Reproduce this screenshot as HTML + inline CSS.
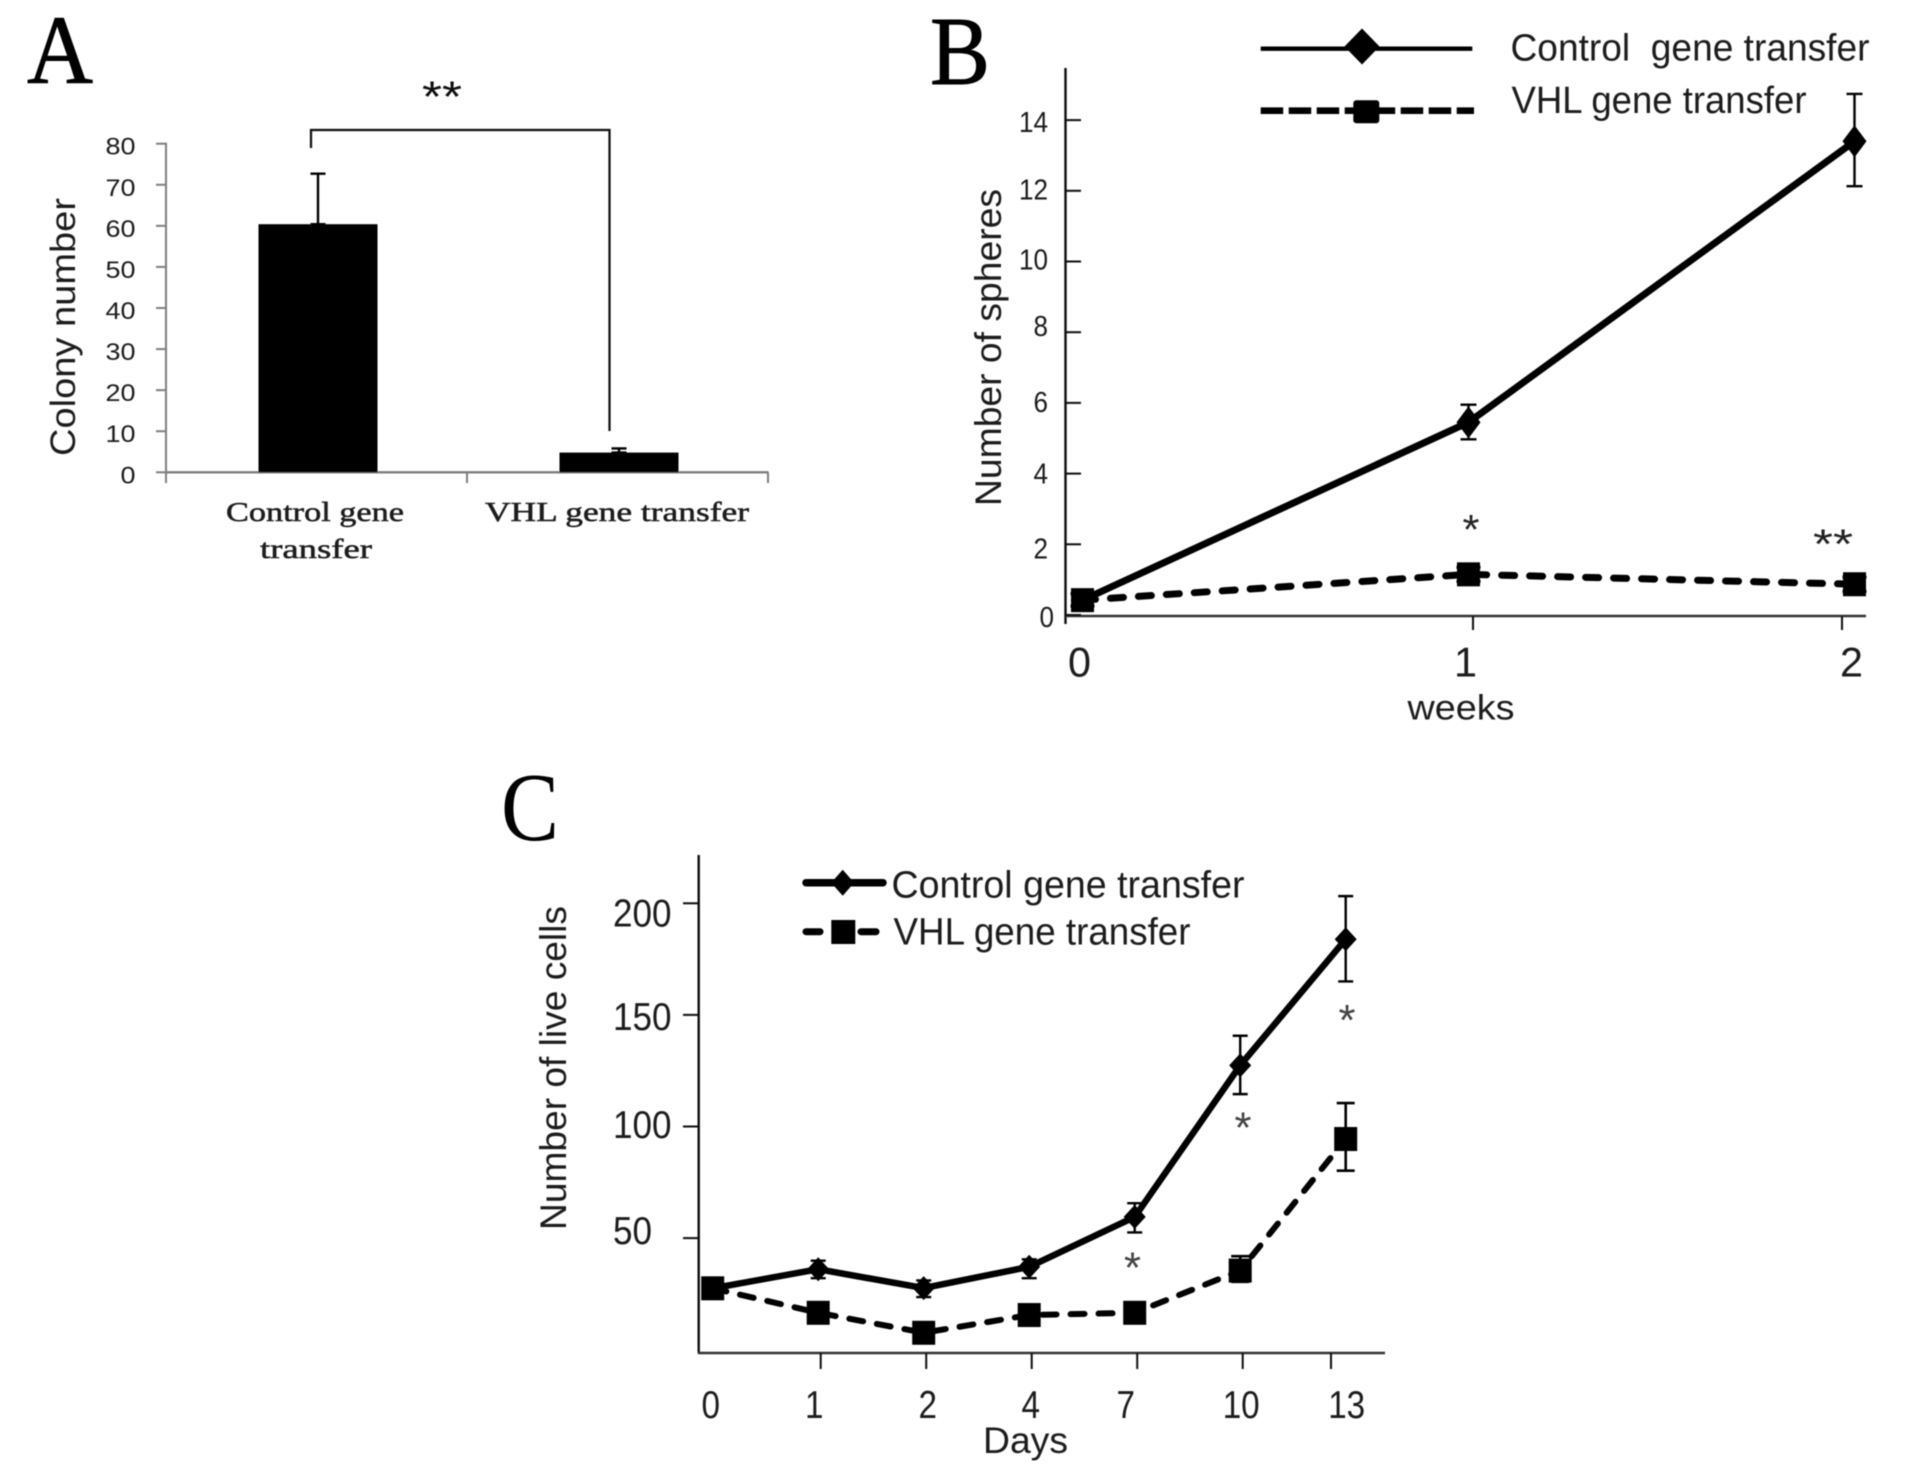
<!DOCTYPE html>
<html lang="en">
<head>
<meta charset="utf-8">
<title>Gene transfer charts</title>
<style>
html,body{margin:0;padding:0;background:#fff;}
svg{display:block;}
text{font-family:"Liberation Sans",sans-serif;fill:#1c1c1c;}
.panel-letter{font-family:"Liberation Serif",serif;font-size:97px;fill:#000;}
.heavy{stroke:#000;stroke-width:0.9px;}
.serif{font-family:"Liberation Serif",serif;stroke:#1c1c1c;stroke-width:0.5px;}
</style>
</head>
<body>
<svg id="figure" xmlns="http://www.w3.org/2000/svg" width="1913" height="1475" viewBox="0 0 1913 1475">
  <rect x="0" y="0" width="1913" height="1475" fill="#fff"/>
  <g filter="url(#soft)" id="root">
    <text class="panel-letter heavy" x="27" y="83" textLength="66" lengthAdjust="spacingAndGlyphs">A</text>
    <text class="panel-letter heavy" x="930" y="84" textLength="60" lengthAdjust="spacingAndGlyphs">B</text>
    <text class="panel-letter" x="501" y="840" textLength="58" lengthAdjust="spacingAndGlyphs">C</text>

    <text transform="translate(75 456) rotate(-90)" font-size="35" textLength="258" lengthAdjust="spacingAndGlyphs">Colony number</text>
    <text class="serif" x="226" y="521" font-size="27" textLength="178" lengthAdjust="spacingAndGlyphs">Control gene</text>
    <text class="serif" x="260" y="558" font-size="27" textLength="112" lengthAdjust="spacingAndGlyphs">transfer</text>
    <text class="serif" x="485" y="521" font-size="27" textLength="264" lengthAdjust="spacingAndGlyphs">VHL gene transfer</text>

    <text transform="translate(1001 506) rotate(-90)" font-size="37" textLength="317" lengthAdjust="spacingAndGlyphs">Number of spheres</text>
    <text x="1407.5" y="719.5" font-size="35" textLength="107" lengthAdjust="spacingAndGlyphs">weeks</text>
    <text x="1510.5" y="60.5" font-size="38" textLength="359" lengthAdjust="spacingAndGlyphs" style="white-space:pre">Control  gene transfer</text>
    <text x="1511.5" y="113" font-size="38" textLength="295" lengthAdjust="spacingAndGlyphs">VHL gene transfer</text>

    <text transform="translate(566 1230) rotate(-90)" font-size="37" textLength="324" lengthAdjust="spacingAndGlyphs">Number of live cells</text>
    <text x="983" y="1453" font-size="37" textLength="85" lengthAdjust="spacingAndGlyphs">Days</text>
    <text x="891.5" y="897.5" font-size="38" textLength="353" lengthAdjust="spacingAndGlyphs">Control gene transfer</text>
    <text x="893.5" y="944.5" font-size="38" textLength="297" lengthAdjust="spacingAndGlyphs">VHL gene transfer</text>
  </g>
  <defs>
    <filter id="soft" x="0" y="0" width="100%" height="100%"><feGaussianBlur stdDeviation="0.6"/></filter>
  </defs>
</svg>
<script>
// ---------- Panel A data ----------
var aTicks = [0, 10, 20, 30, 40, 50, 60, 70, 80];
var aCategories = ['Control gene transfer', 'VHL gene transfer'];
var aMeans = [60.4, 4.8];
var aUpper = [72.7, 5.8];

// ---------- Panel B data ----------
var bTicks = [0, 2, 4, 6, 8, 10, 12, 14];
var bWeeks = ['0', '1', '2'];
var bControl = [0.42, 5.45, 13.4];
var bControlLow = [0.3, 4.97, 12.13];
var bControlHigh = [0.55, 5.95, 14.74];
var bVhl = [0.42, 1.15, 0.87];
var bVhlLow = [0.25, 0.95, 0.67];
var bVhlHigh = [0.6, 1.35, 1.07];

// ---------- Panel C data ----------
var cTicks = [50, 100, 150, 200];
var cDays = ['0', '1', '2', '4', '7', '10', '13'];
var cControl = [28.5, 37, 28.6, 38.1, 60.3, 127.8, 184];
var cControlLow = [26, 33, 24.6, 33, 53.4, 115, 165.2];
var cControlHigh = [31, 40.8, 32, 41.4, 66.4, 141, 203.2];
var cVhl = [28.5, 17.6, 8.7, 16.6, 17.6, 36.4, 95];
var cVhlLow = [25, 13.6, 4.7, 12.6, 13.6, 31.4, 80.9];
var cVhlHigh = [32, 21.6, 12.7, 20.6, 21.6, 42.8, 111];

var SVGNS = 'http://www.w3.org/2000/svg';
var root = document.getElementById('root');
var INK = '#000';
var AXIS_GRAY = '#7f7f7f';

function el(tag, attrs, parent) {
  var n = document.createElementNS(SVGNS, tag);
  for (var k in attrs) n.setAttribute(k, attrs[k]);
  (parent || root).appendChild(n);
  return n;
}
function seg(x1, y1, x2, y2, color, w) {
  return el('line', {x1: x1, y1: y1, x2: x2, y2: y2, stroke: color, 'stroke-width': w});
}
function label(str, x, y, size, len, anchor) {
  var t = el('text', {x: x, y: y, 'font-size': size, textLength: len, lengthAdjust: 'spacingAndGlyphs', 'text-anchor': anchor || 'start'});
  t.textContent = str;
  return t;
}
function star(str, cx, cy, size, len, color) {
  var t = el('text', {x: cx, y: cy + 0.42 * size, 'font-size': size, textLength: len, lengthAdjust: 'spacingAndGlyphs', 'text-anchor': 'middle'});
  t.textContent = str;
  t.style.fill = color;
  return t;
}
function polyline(xs, ys, w, dash) {
  var pts = xs.map(function (x, i) { return x + ',' + ys[i]; }).join(' ');
  var attrs = {points: pts, fill: 'none', stroke: INK, 'stroke-width': w, 'stroke-linejoin': 'round'};
  if (dash) {
    attrs['stroke-dasharray'] = dash;
    attrs['stroke-linecap'] = 'round';
  }
  return el('polyline', attrs);
}
function diamond(cx, cy, hw, hh) {
  return el('polygon', {points: [cx, cy - hh, cx + hw, cy, cx, cy + hh, cx - hw, cy].join(' '), fill: INK});
}
function square(cx, cy, w, h, r) {
  return el('rect', {x: cx - w / 2, y: cy - h / 2, width: w, height: h, rx: r || 0, fill: INK});
}
function errorBar(x, yLow, yHigh, cap, w) {
  return el('path', {d: 'M' + (x - cap) + ' ' + yHigh + 'H' + (x + cap) + 'M' + x + ' ' + yHigh + 'V' + yLow + 'M' + (x - cap) + ' ' + yLow + 'H' + (x + cap), fill: 'none', stroke: INK, 'stroke-width': w});
}

// ================= Panel A =================
function ayA(v) { return 472.3 - v * 4.1075; }
function axA(i) { return 167.5 + 301 * (i + 0.5); }

var aYAxis = seg(166, ayA(80) - 1, 166, 483, AXIS_GRAY, 2);


var aXAxis = seg(165, 472.3, 768.5, 472.3, AXIS_GRAY, 2.4);



aTicks.forEach(function (v) {
  var tick = seg(156, ayA(v), 166, ayA(v), AXIS_GRAY, 2);
  
  
  var s = String(v);
  var t = label(s, 135.5, ayA(v) + 11, 24, s.length * 15, 'end');
  
  
});
[0, 1, 2].forEach(function (i) {
  var tick = seg(166 + 301 * i, 472.3, 166 + 301 * i, 483, AXIS_GRAY, 2);
  
  
});
aCategories.forEach(function (c, i) {
  var cx = axA(i);
  var err = errorBar(cx, ayA(aMeans[i]), ayA(aUpper[i]), 7.5, 2.4);
  
  
  var bar = el('rect', {x: cx - 59.5, y: ayA(aMeans[i]), width: 119, height: 472.3 - ayA(aMeans[i]), fill: INK});
  
  
});
var aBracket = el('path', {d: 'M311 148V130H609.5V431', fill: 'none', stroke: '#111', 'stroke-width': 2.2});


var aStars = star('**', 442, 93, 44, 40, '#111');



// ================= Panel B =================
function xB(i) { return 1082.5 + 386 * i; }
function yB(v) { return 615 - 35.35 * v; }
function bTickX(i) { return 1473 + 369 * (i - 1); }
function bLabelBaseline(v) {
  var drop = {0: 12, 2: 14, 4: 10, 6: 9, 8: 4, 10: 8, 12: 8.5, 14: 12};
  return yB(v) + drop[v];
}

var bYAxis = seg(1065.5, 68, 1065.5, 624, '#111', 2.4);


var bXAxis = seg(1065.5, 616, 1866, 616, '#333', 2.6);



bTicks.forEach(function (v) {
  var tick = seg(1065.5, yB(v), 1081, yB(v), '#111', 2);
  
  
  var s = String(v);
  var t = label(s, v === 0 ? 1054 : 1048, bLabelBaseline(v), 29, s.length * 14.5, 'end');
  
  
});
bWeeks.forEach(function (w, i) {
  if (i > 0) {
    var tick = seg(bTickX(i), 616, bTickX(i), 630, '#111', 2);
    
    
  }
  var t = label(w, xB(i) - 3, 676.5, 42, 23, 'middle');
  
  
});
var bxs = bWeeks.map(function (w, i) { return xB(i); });

var bControlLine = polyline(bxs, bControl.map(yB), 7);


var bVhlLine = polyline(bxs, bVhl.map(yB), 7, '13 15');



bControl.forEach(function (v, i) {
  if (i > 0) {
    var e = errorBar(bxs[i], yB(bControlLow[i]), yB(bControlHigh[i]), 8, 2.4);
    
    
  }
  var m = diamond(bxs[i], yB(v), 12, i === 0 ? 11 : 16);
  
  
});
bVhl.forEach(function (v, i) {
  var e = errorBar(bxs[i], yB(bVhlLow[i]), yB(bVhlHigh[i]), 12, 3);
  
  
  var m = square(bxs[i], yB(v), 23, 24);
  
  
});
var bStar1 = star('*', 1471, 526.5, 42, 17, '#222');


var bStar2 = star('**', 1833, 541, 42, 40, '#222');



var bLeg1 = seg(1260.7, 48.7, 1472.3, 48.7, INK, 4.4);


var bLegD = diamond(1362, 46.5, 17.5, 18);


var bLeg2 = el('line', {x1: 1260.7, y1: 110.7, x2: 1474, y2: 110.7, stroke: INK, 'stroke-width': 6.7, 'stroke-dasharray': '22.5 5.5'});


var bLegS = square(1366.3, 111.7, 26, 23, 3);



// ================= Panel C =================
function xC(i) { return 712.7 + 105.5 * i; }
function yC(v) { return 1352.3 - 2.245 * v; }
function cTickX(i) { return Math.min(xC(i) + 2.5, 1331); }
function cTickY(v) { return 1349.7 - 2.232 * v; }
function cLabelBaseline(v) {
  var at = {50: 1244, 100: 1138, 150: 1030, 200: 926.5};
  return at[v];
}
function cLabelCenter(d, i) {
  var shift = {'0': -2, '1': -4, '2': 4, '4': 1.5, '7': -9, '10': 1, '13': 1};
  return xC(i) + shift[d];
}

var cYAxis = seg(698.7, 855, 698.7, 1353, '#111', 2.4);


var cXAxis = seg(698, 1353, 1385, 1353, '#333', 2.6);



cTicks.forEach(function (v) {
  var tick = seg(683, cTickY(v), 699, cTickY(v), '#111', 2);
  
  
  var s = String(v);
  var t = label(s, 613, cLabelBaseline(v), 39, s.length * 19.5);
  
  
});
cDays.forEach(function (d, i) {
  if (i > 0) {
    var tick = seg(cTickX(i), 1353, cTickX(i), 1369, '#111', 2);
    
    
  }
  var t = label(d, cLabelCenter(d, i), 1418, 39, d.length * 18.5, 'middle');
  
  
});
var cxs = cDays.map(function (d, i) { return xC(i); });

var cControlLine = polyline(cxs, cControl.map(yC), 6.5);


var cVhlLine = polyline(cxs, cVhl.map(yC), 6, '14 14');



cControl.forEach(function (v, i) {
  var e = errorBar(cxs[i], yC(cControlLow[i]), yC(cControlHigh[i]), 7.5, 2.4);
  
  
  var m = diamond(cxs[i], yC(v), 11, 12);
  
  
});
cVhl.forEach(function (v, i) {
  var e = errorBar(cxs[i], yC(cVhlLow[i]), yC(cVhlHigh[i]), 9, 2.6);
  
  
  var m = square(cxs[i], yC(v), 23, 24);
  
  
});
var cStar1 = star('*', 1132.5, 1264, 44, 17, '#444');


var cStar2 = star('*', 1243, 1124, 44, 17, '#444');


var cStar3 = star('*', 1347, 1016.5, 44, 17, '#444');



var cLeg1 = seg(806, 882.7, 883, 882.7, INK, 7.5);
cLeg1.setAttribute('stroke-linecap', 'round');


var cLegD = diamond(842.7, 882.7, 11.5, 13);


var cLeg2a = seg(806, 931.7, 820, 931.7, INK, 7);
cLeg2a.setAttribute('stroke-linecap', 'round');


var cLeg2b = seg(861, 931.7, 876, 931.7, INK, 7);
cLeg2b.setAttribute('stroke-linecap', 'round');


var cLegS = square(843.3, 932, 24, 24);


</script>
</body>
</html>
